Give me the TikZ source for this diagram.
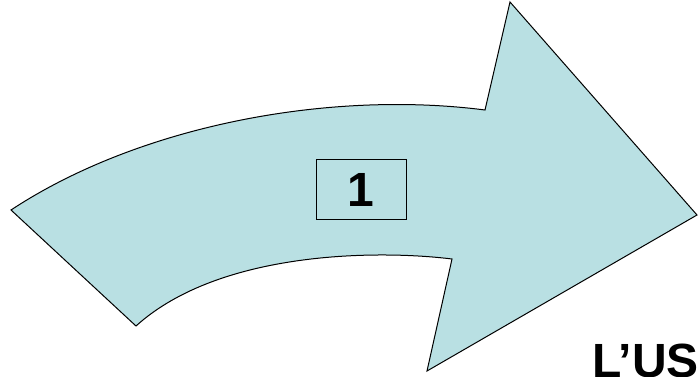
\documentclass[tikz,border=0pt]{standalone}
\usepackage{fontspec}
\setmainfont{Liberation Sans}
\definecolor{ArrFill}{RGB}{185,224,227}
\definecolor{ArrDraw}{RGB}{0,0,0}
\tikzset{
  every node/.style={align=center},
  %% big bent arrow
  bentArr/.style={
    fill=ArrFill, draw=ArrDraw,
    line width=1pt,
    line join=miter,
  },
  %% number box
  numBox/.style={
    draw=black, line width=1pt,
    minimum width=90pt, minimum height=60pt,
    inner sep=0pt,
    font=\fontsize{48}{56}\selectfont\bfseries,
  },
  capText/.style={
    font=\fontsize{48}{56}\selectfont\bfseries,
    inner sep=0pt,
    anchor=base west,
  },
}

\begin{document}
\begin{tikzpicture}[x=1pt,y=-1pt]
\useasboundingbox (0,0) rectangle (698,377);

%% ── Bent arrow ─────────────────────────────────────────────────────────────
\coordinate (TailTop) at (11,210);
\coordinate (NotchTop) at (485,110);
\coordinate (HeadTop) at (510,2);
\coordinate (Tip) at (697,215);
\coordinate (HeadBot) at (427,371);
\coordinate (NotchBot) at (452,259);
\coordinate (TailBot) at (136,326);

\draw[bentArr] (TailTop)
  .. controls (140,125) and (330,90) .. (NotchTop)
  -- (HeadTop) -- (Tip) -- (HeadBot) -- (NotchBot)
  .. controls (380,250) and (220,250) .. (TailBot)
  -- cycle;

%% ── Labels ─────────────────────────────────────────────────────────────────
\node[numBox] (step1) at (361,189.5) {1};
\node[capText] (usage) at (592,377.5) {L’US};

\end{tikzpicture}
\end{document}
